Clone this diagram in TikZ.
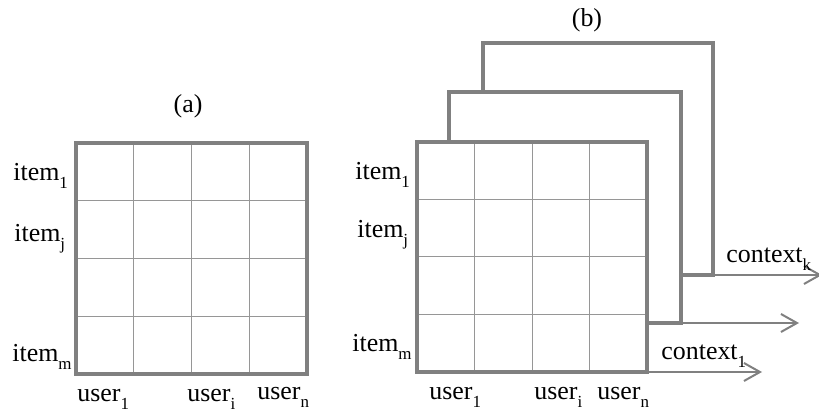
\documentclass[tikz,border=0pt]{standalone}
\usepackage{fontspec}
\setmainfont{Liberation Serif}
\usepackage{tikz}
\usetikzlibrary{calc,positioning,arrows.meta}
\definecolor{frameColor}{RGB}{128, 128, 128}
\definecolor{gridColor}{RGB}{150, 150, 150}
\newcommand{\lowsub}[1]{\raisebox{-0.6ex}{\fontsize{8.5}{8.5}\selectfont #1}}
\tikzset{
    frame/.style={draw=frameColor, line width=1.7bp, line join=miter},
    cellline/.style={draw=gridColor, line width=0.5bp},
    axislabel/.style={inner sep=0pt, anchor=base west, font=\fontsize{13}{15}\selectfont},
    ctxarrow/.style={draw=frameColor, line width=1bp, -{Straight Barb[length=8bp, width=9bp, line width=1bp]}}
}

\begin{document}
\begin{tikzpicture}[x=0.5bp, y=-0.5bp]
            \useasboundingbox (0,0) rectangle (819,415);

            % Matrix (a)
            \foreach \k in {1,2,3} {
                \draw[cellline] ({76+57.75*\k},143) -- ({76+57.75*\k},374);
                \draw[cellline] (76,{143+57.75*\k}) -- (307,{143+57.75*\k});
            }
            \draw[frame] (76,143) rectangle (307,374);

            \node[font=\fontsize{13}{15}\selectfont] (titleA) at (188,106) {(a)};
            \node[axislabel] (itemA1) at (13,181) {item\lowsub{1}};
            \node[axislabel] (itemAj) at (14,242) {item\lowsub{j}};
            \node[axislabel] (itemAm) at (12,362) {item\lowsub{m}};
            \node[axislabel] (userA1) at (77,402) {user\lowsub{1}};
            \node[axislabel] (userAi) at (187,402) {user\lowsub{i}};
            \node[axislabel] (userAn) at (257,400) {user\lowsub{n}};

            % Context slices behind (b)
            \draw[frame] (449,142) -- (449,92) -- (681,92) -- (681,323) -- (647,323);
            \draw[frame] (483,92) -- (483,43) -- (713,43) -- (713,275) -- (681,275);

            % Front matrix (b)
            \foreach \k in {1,2,3} {
                \draw[cellline] ({417+57.5*\k},142) -- ({417+57.5*\k},372);
                \draw[cellline] (417,{142+57.5*\k}) -- (647,{142+57.5*\k});
            }
            \draw[frame] (417,142) rectangle (647,372);

            \node[font=\fontsize{13}{15}\selectfont] (titleB) at (587,20) {(b)};
            \node[axislabel] (itemB1) at (355,180) {item\lowsub{1}};
            \node[axislabel] (itemBj) at (357,238) {item\lowsub{j}};
            \node[axislabel] (itemBm) at (352,352) {item\lowsub{m}};
            \node[axislabel] (userB1) at (429,400) {user\lowsub{1}};
            \node[axislabel] (userBi) at (534,400) {user\lowsub{i}};
            \node[axislabel] (userBn) at (597,400) {user\lowsub{n}};

            % Context arrows
            \coordinate (ctx1Start) at (647,372);
            \coordinate (ctx1End) at (762,372);
            \coordinate (ctx2Start) at (681,323);
            \coordinate (ctx2End) at (799,323);
            \coordinate (ctxkStart) at (713,275);
            \coordinate (ctxkEnd) at (822,275);
            \draw[ctxarrow] (ctx1Start) -- (ctx1End);
            \draw[ctxarrow] (ctx2Start) -- (ctx2End);
            \draw[ctxarrow] (ctxkStart) -- (ctxkEnd);

            \node[axislabel] (ctx1Label) at (661,360) {context\lowsub{1}};
            \node[axislabel] (ctxkLabel) at (726,263) {context\lowsub{k}};
        \end{tikzpicture}
\end{document}
